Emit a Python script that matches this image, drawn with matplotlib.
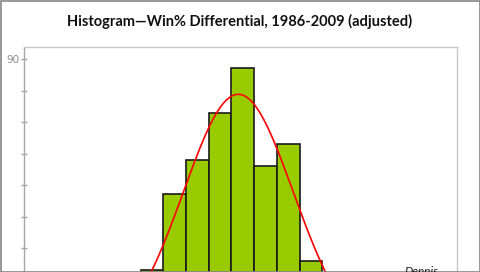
import numpy as np
import matplotlib
matplotlib.use("Agg")
import matplotlib.pyplot as plt
from matplotlib.patches import Rectangle

# ---- data ----
bin_index = [0, 1, 2, 3, 4, 5, 6, 7]
counts = [23, 47, 58, 73, 87, 56, 63, 26]
# fitted normal curve parameters (in bin units)
fit_mean = 4.3
fit_sd = 2.42
fit_peak = 78.8
y_ticks_major = [90]
y_ticks_minor = [0, 10, 20, 30, 40, 50, 60, 70, 80]
title = "Histogram\u2014Win% Differential, 1986-2009 (adjusted)"
credit = "Dennis"

W, H = 481, 272
fig = plt.figure(figsize=(W / 100, H / 100), dpi=100)

# axes geometry (pixel based)
left_px, right_px, top_px = 24, 457, 47
y90_px, px_per_unit = 59, 3.15
ymax = 90 + (y90_px - top_px) / px_per_unit
bottom_px = y90_px + 90 * px_per_unit
ax = fig.add_axes([left_px / W, 1 - bottom_px / H,
                   (right_px - left_px) / W, (bottom_px - top_px) / H])
bar_w_px = 22.7
first_left_px = 140.7
xmin = -(first_left_px - left_px) / bar_w_px
xmax = (right_px - first_left_px) / bar_w_px
ax.set_xlim(xmin, xmax)
ax.set_ylim(0, ymax)

ax.bar([b + 0.5 for b in bin_index], counts, width=1.0,
       color="#99CC00", edgecolor="#1a1a1a", linewidth=1.2, zorder=2)

xs = np.linspace(xmin, xmax, 400)
ys = fit_peak * np.exp(-0.5 * ((xs - fit_mean) / fit_sd) ** 2)
ax.plot(xs, ys, color="#FF0000", linewidth=1.2, zorder=3)

for s in ["top", "right"]:
    ax.spines[s].set_color("#c8c8c8")
    ax.spines[s].set_linewidth(1.0)
ax.spines["left"].set_color("#a6a6a6")
ax.spines["left"].set_linewidth(1.0)
ax.spines["bottom"].set_visible(False)
ax.set_xticks([])
ax.set_yticks(y_ticks_major)
ax.set_yticks(y_ticks_minor, minor=True)
ax.tick_params(axis="y", which="both", direction="inout", length=5,
               color="#a6a6a6", width=1.0, labelsize=7.5,
               labelcolor="#8c8c8c", pad=1)

fig.text(240 / W, 1 - 21.5 / H, title, ha="center", va="center",
         fontsize=10.5, fontweight="bold", family="Lato", color="#111111")
fig.text(421 / W, 1 - 266 / H, credit, ha="center", va="top",
         fontsize=8.5, style="italic", family="Lato", color="#1a1a1a")

# outer chart frame
fig.add_artist(Rectangle((0.5 / W, 0.5 / H), 1 - 1.5 / W, 1 - 1.5 / H,
                         transform=fig.transFigure, fill=False,
                         edgecolor="#868686", linewidth=1.2))

fig.savefig("out.png", dpi=100)
